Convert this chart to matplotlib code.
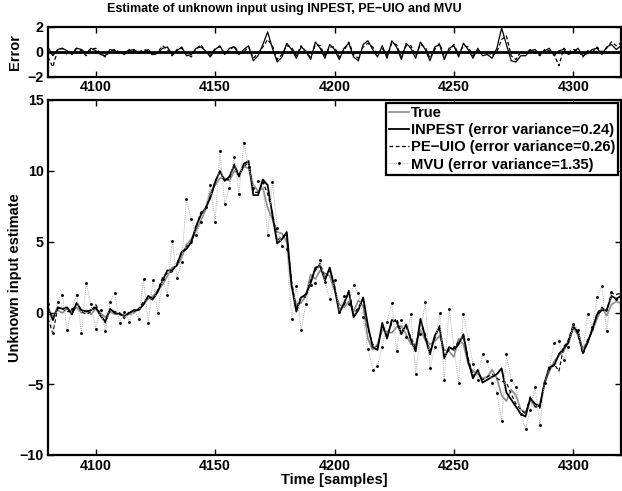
import numpy as np
import matplotlib
matplotlib.use("Agg")
import matplotlib.pyplot as plt

plt.rcParams["font.family"] = ["Liberation Sans", "DejaVu Sans"]
plt.rcParams["font.weight"] = "bold"
plt.rcParams["axes.labelweight"] = "bold"

# sample axis (every 2nd sample)
t = np.arange(4080, 4321, 2)

true_u = [
    0.0, -0.2, 0.2, 0.0, 0.3, 0.1, 0.4, 0.0, 0.2, -0.1,
    0.3, 0.0, -0.3, 0.1, -0.1, 0.0, -0.2, -0.1, 0.0, 0.3,
    0.6, 1.0, 1.2, 1.6, 2.0, 2.6, 3.2, 3.3, 3.9, 4.8,
    5.2, 5.8, 6.5, 7.3, 8.5, 9.0, 9.5, 9.5, 9.3, 10.0,
    9.8, 10.3, 10.2, 9.0, 8.6, 8.8, 7.4, 6.6, 5.7, 5.6,
    5.0, 1.8, 0.6, 0.7, 1.2, 2.7, 2.4, 3.0, 2.8, 2.6,
    1.6, 0.6, 0.4, 0.8, 0.1, 0.9, 0.5, -1.8, -2.6, -2.2,
    -1.2, -1.3, -1.4, -1.0, -0.9, -1.5, -2.2, -2.2, -1.2, -1.9,
    -2.2, -2.0, -1.6, -2.6, -2.7, -3.1, -1.8, -2.2, -3.6, -4.1,
    -4.3, -4.6, -4.5, -4.0, -4.6, -5.8, -6.2, -5.4, -5.8, -6.8,
    -7.0, -6.1, -6.6, -6.4, -5.0, -4.1, -3.4, -3.0, -2.7, -1.9,
    -1.0, -1.6, -2.5, -2.0, -1.3, -0.4, 0.4, -0.2, 0.6, 0.8,
    0.7,
]

mvu_u = [
    0.6, -1.4, 0.8, 1.3, -1.2, 0.3, 1.3, -1.4, 2.1, 0.6,
    -1.1, 0.2, -1.3, 0.8, 1.4, -0.7, 0.1, -0.6, 0.2, -0.4,
    2.4, -0.7, 2.3, 0.0, 2.4, 1.3, 5.1, 2.5, 3.6, 8.0,
    6.6, 5.5, 6.4, 7.5, 9.0, 6.4, 11.4, 7.7, 8.8, 11.0,
    8.4, 12.0, 10.3, 8.8, 9.3, 9.2, 5.5, 9.2, 6.0, 4.7,
    4.5, -0.4, 1.9, -1.2, 0.6, 2.0, 2.1, 3.7, 2.2, 1.0,
    2.3, 0.1, 1.2, 0.6, 2.0, 1.4, -0.3, -2.5, -4.0, -3.7,
    -2.4, -0.6, 0.7, -2.7, -0.5, -1.7, -0.1, -4.3, -1.5, 0.8,
    -3.9, -2.4, 0.0, -4.7, 0.3, -2.4, -4.9, -0.1, -1.8, -3.6,
    -4.7, -2.9, -3.4, -4.9, -5.6, -7.6, -2.9, -4.7, -5.2, -7.1,
    -8.2, -6.8, -5.2, -7.9, -4.9, -3.9, -2.1, -2.0, -3.3, -2.4,
    -0.8, -1.2, -2.7, -0.1, -1.0, 1.1, 1.9, -1.3, 1.5, 1.0,
    0.4,
]

# error panel readings (estimate minus true)
err_inpest = [
    0.4, -0.3, 0.2, 0.3, 0.1, -0.2, 0.3, 0.2, -0.1, 0.3,
    0.1, -0.2, -0.3, 0.2, 0.1, -0.1, 0.0, 0.1, 0.2, -0.1,
    0.0, 0.2, -0.2, -0.1, 0.3, 0.4, -0.2, 0.1, 0.4, -0.3,
    -0.2, 0.3, 0.4, 0.1, -0.4, 0.2, 0.5, -0.2, 0.3, 0.4,
    -0.2, 0.2, 0.5, -0.7, -0.3, 0.6, 1.6, 0.3, -0.8, -0.4,
    0.7, 0.2, -0.5, 0.4, 0.1, -0.6, 0.8, 0.3, -0.5, 0.6,
    0.2, -0.6, 0.3, 0.7, -0.4, -0.7, 0.6, 0.9, 0.2, -0.4,
    0.5, -0.5, 0.9, 0.4, -0.6, 0.7, 0.3, -0.5, 0.8, 0.2,
    -0.7, 0.4, 0.6, -0.6, 0.3, 0.5, -0.4, 0.7, 0.2, -0.5,
    0.3, -0.3, -0.2, -0.5, 0.3, 1.9, 0.6, -0.7, -0.8, -0.3,
    -0.3, 0.1, 0.2, -0.2, 0.1, 0.3, -0.3, 0.1, 0.2, -0.2,
    0.0, 0.3, -0.3, -0.1, 0.2, 0.3, -0.2, 0.4, 0.6, 0.2,
    0.5,
]

err_peuio = [
    -0.4, -1.2, 0.1, 0.3, -0.2, 0.0, 0.3, 0.1, -0.3, 0.2,
    0.3, -0.1, -0.4, 0.1, 0.2, 0.0, -0.2, 0.2, 0.1, 0.0,
    0.2, 0.1, -0.3, 0.0, 0.5, 0.2, -0.3, 0.2, 0.3, -0.1,
    -0.4, 0.2, 0.6, 0.0, -0.3, 0.3, 0.4, -0.1, 0.1, 0.5,
    -0.1, 0.0, 0.4, -0.5, -0.1, 0.4, 1.0, 0.5, -0.6, -0.2,
    0.5, 0.4, -0.3, 0.5, -0.1, -0.4, 0.6, 0.5, -0.3, 0.4,
    0.4, -0.4, 0.1, 0.8, -0.2, -0.5, 0.4, 0.7, 0.4, -0.2,
    0.3, -0.3, 0.7, 0.6, -0.4, 0.5, 0.5, -0.3, 0.6, 0.4,
    -0.5, 0.2, 0.7, -0.4, 0.1, 0.6, -0.2, 0.5, 0.4, -0.3,
    0.1, -0.1, 0.0, -0.3, 0.0, 1.0, 1.3, -0.3, -0.6, 0.0,
    -0.1, 0.2, 0.0, -0.3, 0.2, 0.1, -0.2, -1.1, 0.3, 0.0,
    0.2, 0.1, -0.4, 0.1, 0.0, 0.4, 0.0, 0.3, 0.8, 0.5,
    0.7,
]

true_u = np.array(true_u)
inpest_u = true_u + np.array(err_inpest)
peuio_u = true_u + np.array(err_peuio)

legend_labels = [
    "True",
    "INPEST (error variance=0.24)",
    "PE\u2212UIO (error variance=0.26)",
    "MVU (error variance=1.35)",
]

W, H = 622, 491
fig = plt.figure(figsize=(W / 100, H / 100), dpi=100)
ax_e = fig.add_axes([48 / W, 1 - 77 / H, 573 / W, 50 / H])
ax = fig.add_axes([48 / W, 1 - 455 / H, 573 / W, 355 / H])

gray = "#8c8c8c"

# error panel
ax_e.axhline(0, color="black", linewidth=2)
ax_e.plot(t, err_inpest, color="black", linewidth=0.9)
ax_e.plot(t, err_peuio, color="black", linewidth=0.9, linestyle=(0, (3, 2)))
ax_e.set_ylim(-2, 2)
ax_e.set_yticks([-2, 0, 2])
ax_e.set_ylabel("Error", fontsize=10.5, va="center")
ax_e.yaxis.set_label_coords(-33 / 573, 0.5)

# estimate panel
ax.plot(t, true_u, color=gray, linewidth=1.2, label=legend_labels[0])
ax.plot(t, inpest_u, color="black", linewidth=1.3, label=legend_labels[1])
ax.plot(t, peuio_u, color="black", linewidth=0.9, linestyle=(0, (3, 2)),
        label=legend_labels[2])
ax.plot(t, mvu_u, color="#b0b0b0", linewidth=0.7, linestyle=(0, (1, 1.2)),
        marker=".", markersize=2.2, markerfacecolor="black",
        markeredgecolor="black", label=legend_labels[3])
ax.set_ylim(-10, 15)
ax.set_yticks([-10, -5, 0, 5, 10, 15])
ax.set_ylabel("Unknown input estimate", fontsize=10.5, va="center")
ax.yaxis.set_label_coords(-33 / 573, 0.5)
ax.set_xlabel("Time [samples]", fontsize=10.5, labelpad=0)

for a in (ax_e, ax):
    a.set_xlim(4080, 4320)
    a.set_xticks([4100, 4150, 4200, 4250, 4300])
    a.tick_params(direction="in", top=True, right=True, length=4, width=1,
                  labelsize=10.3, pad=3)
    for s in a.spines.values():
        s.set_linewidth(1.6)
ax_e.tick_params(axis="x", pad=2)

leg = ax.legend(loc="upper right", fontsize=10.6, frameon=True, fancybox=False,
                handlelength=1.3, handletextpad=0.15, borderpad=0.2,
                labelspacing=0.22, borderaxespad=0.2)
leg.get_frame().set_edgecolor("black")
leg.get_frame().set_linewidth(1.6)
leg.get_frame().set_alpha(1)

fig.text(284 / W, 1 - 9 / H, "Estimate of unknown input using INPEST, PE\u2212UIO and MVU",
         ha="center", va="center", fontsize=9, fontweight="bold")

fig.savefig("out.png", dpi=100)
